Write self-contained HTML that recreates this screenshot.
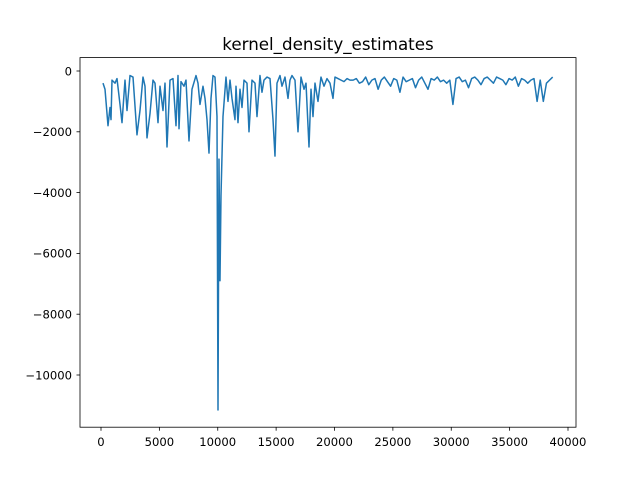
<!DOCTYPE html>
<html><head><meta charset="utf-8"><style>
html,body{margin:0;padding:0;background:#fff;}
svg text{font-family:"DejaVu Sans","Liberation Sans",sans-serif;fill:#000;}
</style></head><body>
<svg id="chart" width="640" height="480" xmlns="http://www.w3.org/2000/svg">
<rect width="640" height="480" fill="#fff"/>
<text x="328" y="50" font-size="16.7" text-anchor="middle">kernel_density_estimates</text>
<g id="plot"></g>
<rect x="80" y="57.6" width="496" height="369.6" fill="none" stroke="#000" stroke-width="0.8"/>
<g id="axes"></g>
</svg>
<script>
const xA = [171,343,600,771,857,942,1199,1370,1627,1799,2056,2227,2484,2741,3083,3340,3597,3769,3940,4197,4454,4625,4882,5054,5310,5482,5653,5910,6167,6424,6595,6681,6852,7109,7280,7537,7794,8137,8308,8479,8736,8908,9079,9250,9422,9593,9764,9935,10021,10106,10192,10278,10449,10706,10877,11049,11220,11477,11563,11734,11905,12077,12248,12505,12676,12933,13190,13361,13618,13789,13961,14218,14475,14732,14903,15074,15331,15503,15760,16017,16188,16359,16616,16873,17130,17387,17559,17816,17987,18158,18329,18586,18843,19100,19357,19614,19871,20042,20299,20556,20813,21070,21326];
const yA = [-400,-600,-1800,-1200,-1600,-300,-400,-250,-1100,-1700,-300,-1300,-150,-200,-2100,-1300,-200,-500,-2200,-1400,-300,-400,-1700,-500,-1300,-400,-2500,-300,-250,-1800,-150,-1900,-350,-500,-300,-2300,-600,-150,-400,-1100,-500,-900,-1600,-2700,-900,-150,-200,-1500,-11150,-2900,-6900,-4100,-1500,-200,-1000,-300,-900,-1600,-500,-1700,-600,-1200,-300,-400,-2000,-300,-400,-1500,-150,-700,-300,-200,-250,-1600,-2800,-400,-150,-500,-200,-900,-300,-150,-300,-2000,-200,-600,-400,-2500,-600,-1500,-400,-1000,-200,-500,-250,-400,-900,-200,-250,-300,-350,-250,-300];
const xB = [21600,21867,22134,22401,22668,22935,23202,23469,23736,24003,24270,24537,24804,25071,25338,25605,25872,26139,26406,26673,26940,27207,27474,27741,28008,28275,28542,28809,29076,29343,29610,29877,30144,30411,30678,30945,31212,31479,31746,32013,32280,32547,32814,33081,33348,33615,33882,34149,34416,34683,34950,35217,35484,35751,36018,36285,36552,36819,37086,37353,37620,37887,38154,38421,38688];
const yB = [-300,-250,-400,-350,-200,-450,-300,-250,-600,-300,-200,-350,-500,-250,-300,-700,-200,-350,-300,-250,-550,-300,-200,-400,-600,-250,-300,-200,-350,-300,-400,-300,-1100,-250,-200,-350,-300,-550,-250,-200,-300,-450,-250,-200,-300,-400,-200,-250,-300,-450,-250,-300,-200,-500,-250,-300,-400,-300,-250,-1000,-300,-1000,-400,-300,-200];
const xTicks = [0,5000,10000,15000,20000,25000,30000,35000,40000];
const yTicks = [0,-2000,-4000,-6000,-8000,-10000];

const X = v => 101 + v * 0.011675;
const Y = v => 71 - v * 0.0304;
const NS = "http://www.w3.org/2000/svg";
const plot = document.getElementById('plot');
const axes = document.getElementById('axes');
const xs = xA.concat(xB), ys = yA.concat(yB);
let d = '';
for (let i = 0; i < xs.length; i++) d += (i ? 'L' : 'M') + X(xs[i]).toFixed(2) + ',' + Y(ys[i]).toFixed(2);
const line = document.createElementNS(NS, 'path');
line.setAttribute('d', d);
line.setAttribute('fill', 'none');
line.setAttribute('stroke', '#1f77b4');
line.setAttribute('stroke-width', '1.5');
line.setAttribute('stroke-linejoin', 'round');


plot.appendChild(line);

xTicks.forEach(t => {
  const x = X(t);
  const tk = document.createElementNS(NS, 'line');
  tk.setAttribute('x1', x); tk.setAttribute('x2', x);
  tk.setAttribute('y1', 427.2); tk.setAttribute('y2', 430.7);
  tk.setAttribute('stroke', '#000'); tk.setAttribute('stroke-width', '0.8');
  
  
  axes.appendChild(tk);
  const tx = document.createElementNS(NS, 'text');
  tx.setAttribute('x', x); tx.setAttribute('y', 446);
  tx.setAttribute('font-size', '11.6'); tx.setAttribute('text-anchor', 'middle');
  tx.textContent = t;
  
  
  axes.appendChild(tx);
});
yTicks.forEach(t => {
  const y = Y(t);
  const tk = document.createElementNS(NS, 'line');
  tk.setAttribute('x1', 76.5); tk.setAttribute('x2', 80);
  tk.setAttribute('y1', y); tk.setAttribute('y2', y);
  tk.setAttribute('stroke', '#000'); tk.setAttribute('stroke-width', '0.8');
  
  
  axes.appendChild(tk);
  const tx = document.createElementNS(NS, 'text');
  tx.setAttribute('x', 72); tx.setAttribute('y', y + 4.3);
  tx.setAttribute('font-size', '11.6'); tx.setAttribute('text-anchor', 'end');
  tx.textContent = t < 0 ? '\u2212' + Math.abs(t) : t;
  
  
  axes.appendChild(tx);
});
</script>
</body></html>
